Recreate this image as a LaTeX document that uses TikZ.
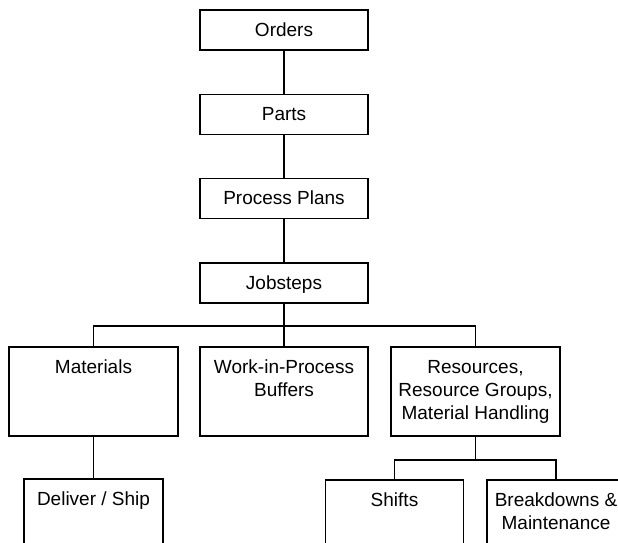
\documentclass[tikz,border=0pt]{standalone}
\usepackage{fontspec}
\setmainfont{Liberation Sans}
\newcommand{\boxtxt}[3]{\parbox[c][#2pt][t]{#1pt}{\centering\rule{0pt}{26pt}#3}}
\begin{document}
\begin{tikzpicture}[x=1pt,y=-1pt,
  fbox/.style={draw=black,line width=1.2pt,inner sep=0pt,outer sep=0pt,font=\fontsize{19}{23}\selectfont},
  conn/.style={draw=black,line width=1.2pt}]
\useasboundingbox (0,0) rectangle (618,542);
\node[fbox] (orders) at (284,30) {\boxtxt{168}{40}{Orders}};
\node[fbox] (parts) at (284,114.5) {\boxtxt{168}{40}{Parts}};
\node[fbox] (plans) at (284,198.5) {\boxtxt{168}{40}{Process Plans}};
\node[fbox] (job) at (284,283) {\boxtxt{168}{40}{Jobsteps}};
\node[fbox] (mat) at (93.5,391.5) {\boxtxt{169}{89}{Materials}};
\node[fbox] (wip) at (284,391.5) {\boxtxt{168}{89}{Work-in-Process\\Buffers}};
\node[fbox] (res) at (475.5,391.5) {\boxtxt{169}{89}{Resources,\\Resource Groups,\\Material Handling}};
\node[fbox,anchor=north] (ship) at (93.5,479) {\boxtxt{139}{89}{Deliver / Ship}};
\node[fbox,anchor=north] (shifts) at (394.5,480) {\boxtxt{138}{89}{Shifts}};
\node[fbox,anchor=north] (brk) at (556,480) {\boxtxt{138}{89}{Breakdowns \&\\Maintenance}};
\coordinate (bar) at (0,326);
\coordinate (subbar) at (0,460);
\draw[conn] (orders) -- (parts);
\draw[conn] (parts) -- (plans);
\draw[conn] (plans) -- (job);
\draw[conn] (job.south) -- (wip.north);
\draw[conn] (mat.north) |- (bar -| job.south) -| (res.north);
\draw[conn] (mat.south) -- (ship.north);
\draw[conn] (res.south) -- (res.south |- subbar);
\draw[conn] (shifts.north) |- (subbar -| res.south) -| (brk.north);
\end{tikzpicture}
\end{document}
